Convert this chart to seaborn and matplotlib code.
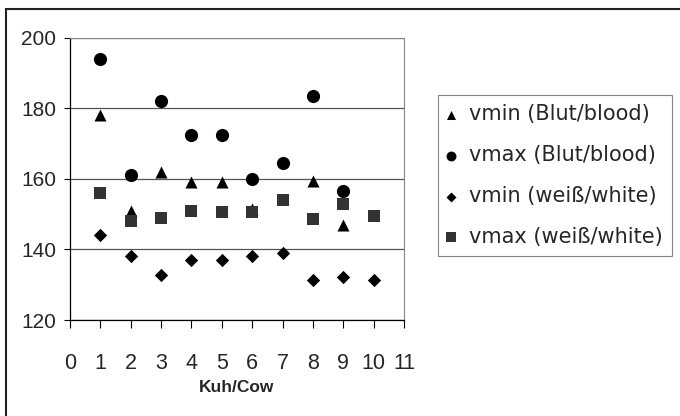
import numpy as np
import pandas as pd
import matplotlib
matplotlib.use("Agg")
import matplotlib.pyplot as plt
import seaborn as sns
from matplotlib.patches import Rectangle

# values
cows_vmin_blood = [1, 2, 3, 4, 5, 6, 8, 9]
vmin_blood = [178, 151, 162, 159, 159, 151.5, 159.5, 147]

cows_vmax_blood = [1, 2, 3, 4, 5, 6, 7, 8, 9]
vmax_blood = [194, 161, 182, 172.5, 172.5, 160, 164.5, 183.5, 156.5]

cows_white = [1, 2, 3, 4, 5, 6, 7, 8, 9, 10]
vmin_white = [144, 138, 132.7, 137, 137, 138, 139, 131.3, 132.3, 131.3]
vmax_white = [156, 148, 149, 151, 150.7, 150.7, 154, 148.5, 153, 149.5]

labels = ["vmin (Blut/blood)", "vmax (Blut/blood)",
          "vmin (weiß/white)", "vmax (weiß/white)"]

sns.set_style("white")
plt.rcParams['font.family'] = ['Liberation Sans', 'DejaVu Sans']

fig = plt.figure(figsize=(6.8, 4.16), dpi=100)
ax = fig.add_axes([70 / 680, 1 - 320 / 416, 334 / 680, (320 - 37.7) / 416])

series = [
    (cows_vmin_blood, vmin_blood, "^", 75, "black"),
    (cows_vmax_blood, vmax_blood, "o", 90, "black"),
    (cows_white, vmin_white, "D", 46, "black"),
    (cows_white, vmax_white, "s", 80, "#333333"),
]
for (xs, ys, mk, sz, col), lab in zip(series, labels):
    sns.scatterplot(x=xs, y=ys, marker=mk, s=sz, color=col, linewidth=0,
                    label=lab, ax=ax, zorder=3, legend=False)

ax.set_xlim(0, 11)
ax.set_ylim(120, 200)
ax.set_xticks(range(0, 12))
ax.set_yticks(range(120, 201, 20))
ax.grid(axis='y', color='#555555', linewidth=0.9)
ax.set_axisbelow(True)

for side in ['top', 'right']:
    ax.spines[side].set_color('#888888')
    ax.spines[side].set_linewidth(0.8)
ax.spines['left'].set_color('black')
ax.spines['bottom'].set_color('black')
ax.spines['left'].set_linewidth(0.9)
ax.spines['bottom'].set_linewidth(0.9)

ax.tick_params(axis='x', direction='out', length=6, width=0.8, color='black',
               labelsize=15.5, pad=18, bottom=True)
ax.tick_params(axis='y', direction='out', length=4, width=0.8, color='black',
               labelsize=15, pad=6, left=True)
ax.set_xlabel("Kuh/Cow", fontsize=12.5, fontweight='bold', labelpad=4)
ax.set_ylabel("")

leg = ax.legend(loc='upper left', bbox_to_anchor=(438 / 680, 1 - 95 / 416),
                bbox_transform=fig.transFigure,
                prop={'family': 'DejaVu Sans', 'size': 15}, markerscale=0.75,
                frameon=True, fancybox=False, edgecolor='#666666',
                labelspacing=1.0, handletextpad=0.75, handlelength=0.3,
                borderpad=0.45, borderaxespad=0)
leg.get_frame().set_linewidth(0.8)

# outer frame of the chart
fig.patches.append(Rectangle((6 / 680, -0.05), 1.0, 1 - 9 / 416 + 0.05,
                             transform=fig.transFigure, fill=False,
                             edgecolor='#222222', linewidth=1.5))

fig.savefig("out.png", dpi=100)
